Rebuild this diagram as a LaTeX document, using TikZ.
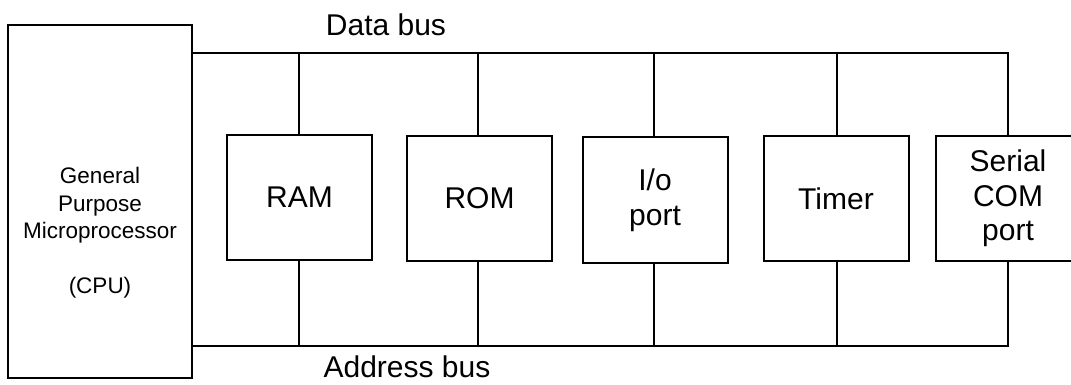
\documentclass[tikz,border=0pt]{standalone}
\usepackage{fontspec}
\setmainfont{Liberation Sans}
\begin{document}
\begin{tikzpicture}[x=1pt,y=-1pt,
  wire/.style={line width=2pt,line cap=rect},
  unit/.style={draw,line width=2pt,inner sep=0pt,minimum width=145pt,
    minimum height=125pt,align=center,font=\fontsize{30}{34.5}\selectfont},
  buslabel/.style={font=\fontsize{30}{34.5}\selectfont,inner sep=0pt}]
\useasboundingbox (0,0) rectangle (1071,385);
\clip (0,0) rectangle (1071,385);
% processor
\node[draw,line width=2pt,inner sep=0pt,minimum width=184pt,minimum height=353pt]
  (cpu) at (100,201.5) {};
\node[align=center,inner sep=0pt,font=\fontsize{22.5}{27.5}\selectfont]
  (cputext) at (100,233) {General\\Purpose\\Microprocessor\\[27.5pt](CPU)};
% peripheral blocks
\node[unit] (ram)   at (299.5,197.5) {RAM};
\node[unit] (rom)   at (479.5,198.5) {ROM};
\node[unit] (io)    at (655,200)     {I/o\\port};
\node[unit] (timer) at (836,198.5)   {Timer};
\node[unit] (ser)   at (1008,198.5)  {Serial\\COM\\port};
% bus ends
\coordinate (dbend) at (1008,53);
\coordinate (abend) at (1008,346);
\draw[wire] (cpu.east |- dbend) -- (dbend) -- (ser.north);
\draw[wire] (cpu.east |- abend) -- (abend) -- (ser.south);
\foreach \b/\x in {ram/299,rom/478,io/654,timer/837}{
  \draw[wire] (\x,0 |- \b.north) -- (\x,0 |- dbend);
  \draw[wire] (\x,0 |- \b.south) -- (\x,0 |- abend);
}
% bus names
\node[buslabel] (dblabel) at (386,25)  {Data bus};
\node[buslabel] (ablabel) at (407,367) {Address bus};
\end{tikzpicture}
\end{document}
